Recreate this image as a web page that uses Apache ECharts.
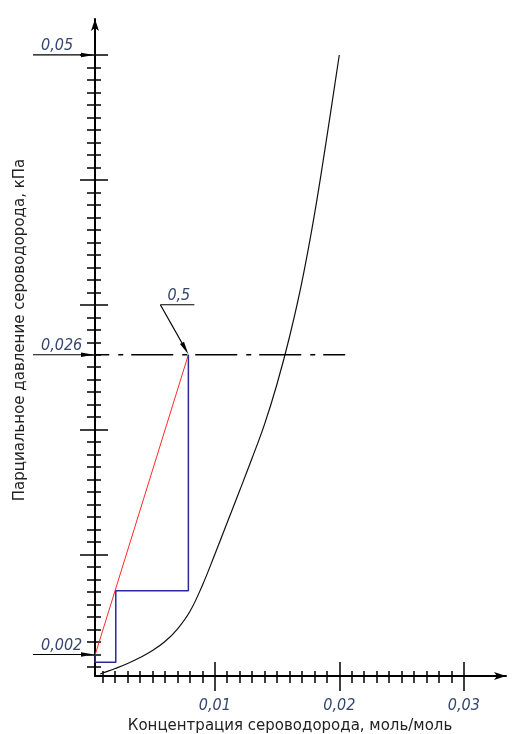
<!DOCTYPE html>
<html><head><meta charset="utf-8">
<script src="https://cdn.jsdelivr.net/npm/echarts@6/dist/echarts.min.js"></script>
<style>html,body{margin:0;padding:0;background:#fff}#c{width:512px;height:734px}</style>
</head><body><div id="c"></div>
<script>
// ---- data ----
const curveX = [0.0008,0.001,0.002,0.003,0.004,0.005,0.006,0.007,0.008,0.009,0.010,0.011,0.012,0.013,0.014,0.015,0.016,0.017,0.018,0.019,0.020];
const curveY = [0.00044,0.00052,0.00088,0.00128,0.00176,0.00232,0.00304,0.00404,0.00544,0.00753,0.01001,0.01257,0.01513,0.01773,0.02045,0.02366,0.02742,0.03183,0.03719,0.04343,0.05];
const redX = [0.0004, 0.00788];
const redY = [0.002, 0.026];
const blueX = [0.0004, 0.0004, 0.00205, 0.00205, 0.00788, 0.00788];
const blueY = [0.002, 0.00138, 0.00138, 0.00711, 0.00711, 0.026];
const levelX = [0.0004, 0.02047];
const levelY = 0.026;
const noteText = '0,5';
const notePoint = [0.00788, 0.026];
const xMajor = [0.01, 0.02, 0.03];
const xLabels = ['0,01', '0,02', '0,03'];
const yMajor = [0.01, 0.02, 0.03, 0.04, 0.05];
const xMinor = []; for (let i = 1; i <= 29; i++) if (i % 10) xMinor.push(i / 1000);
const yMinor = []; for (let i = 1; i <= 49; i++) if (i % 10) yMinor.push(i / 1000);
const yMarkValues = [0.05, 0.026, 0.002];
const yMarkLabels = ['0,05', '0,026', '0,002'];
const xTitle = 'Концентрация сероводорода, моль/моль';
const yTitle = 'Парциальное давление сероводорода, кПа';

const xMin = 0.00038, xMax = 0.03339, yMin = 0.00028, yMax = 0.05288;
const numFont = "'Liberation Sans Narrow','DejaVu Sans Condensed',sans-serif";
const numColor = '#34466e';

function xAx(ticks, len, inside, main) {
  return {
    type: 'value', min: xMin, max: xMax, position: 'bottom', gridIndex: 0,
    axisLine: { show: !!main, onZero: false, symbol: ['none', 'arrow'], symbolSize: [6, 12],
      lineStyle: { color: '#000', width: 2 } },
    axisTick: { show: true, customValues: ticks, length: len, inside: inside,
      lineStyle: { color: '#000', width: 1.5 } },
    axisLabel: main ? {
      show: true, customValues: xMajor, margin: 22, color: numColor,
      fontFamily: numFont, fontStyle: 'italic', fontSize: 16,
      formatter: v => { const i = xMajor.findIndex(m => Math.abs(m - v) < 1e-9); return i >= 0 ? xLabels[i] : ''; }
    } : { show: false },
    splitLine: { show: false }
  };
}
function yAx(ticks, len, inside, main) {
  return {
    type: 'value', min: yMin, max: yMax, position: 'left', gridIndex: 0, offset: 0,
    axisLine: { show: !!main, onZero: false, symbol: ['none', 'arrow'], symbolSize: [6, 12],
      lineStyle: { color: '#000', width: 2 } },
    axisTick: { show: true, customValues: ticks, length: len, inside: inside,
      lineStyle: { color: '#000', width: 1.5 } },
    axisLabel: { show: false },
    splitLine: { show: false }
  };
}

const chart = echarts.init(document.getElementById('c'), null, { renderer: 'canvas' });
const option = {
  animation: false,
  backgroundColor: '#fff',
  grid: { left: 95, right: 6, top: 19, bottom: 58, containLabel: false },
  xAxis: [xAx(xMinor, 7, false, true), xAx(xMinor, 5, true), xAx(xMajor, 15, false), xAx(xMajor, 14, true)],
  yAxis: [yAx(yMinor, 8, false, true), yAx(yMinor, 6, true), yAx(yMajor, 15, false), yAx(yMajor, 13, true)],
  series: [
    { type: 'line', xAxisIndex: 0, yAxisIndex: 0, showSymbol: false, smooth: 0.4,
      data: curveX.map((x, i) => [x, curveY[i]]),
      lineStyle: { color: '#111', width: 1.2 } },
    { type: 'line', xAxisIndex: 0, yAxisIndex: 0, showSymbol: false,
      data: levelX.map(x => [x, levelY]),
      lineStyle: { color: '#000', width: 1.5, type: [42, 9, 5, 8], dashOffset: 28 } },
    { type: 'line', xAxisIndex: 0, yAxisIndex: 0, showSymbol: false,
      data: redX.map((x, i) => [x, redY[i]]),
      lineStyle: { color: '#ff2a2a', width: 1 } },
    { type: 'line', xAxisIndex: 0, yAxisIndex: 0, showSymbol: false,
      data: blueX.map((x, i) => [x, blueY[i]]),
      lineStyle: { color: '#2a2a9c', width: 1.5 } }
  ]
};
chart.setOption(option);

const P = (x, y) => chart.convertToPixel({ gridIndex: 0 }, [x, y]);
function arrow(from, tip, len, hw) {
  const dx = tip[0] - from[0], dy = tip[1] - from[1];
  const d = Math.hypot(dx, dy), ux = dx / d, uy = dy / d;
  const bx = tip[0] - ux * len, by = tip[1] - uy * len;
  return {
    base: [bx, by],
    el: { type: 'polygon', shape: { points: [tip, [bx - uy * hw, by + ux * hw], [bx + uy * hw, by - ux * hw]] },
      style: { fill: '#000' }, z: 20 }
  };
}
const g = [];
yMarkValues.forEach((v, i) => {
  const p = P(xMin, v);
  const tip = [p[0] - 1, p[1]];
  const a = arrow([33, p[1]], tip, 13, 2.3);
  g.push({ type: 'line', shape: { x1: 33, y1: p[1], x2: a.base[0], y2: p[1] }, style: { stroke: '#000', lineWidth: 1.2 }, z: 20 });
  g.push(a.el);
  g.push({ type: 'text', x: 41, y: p[1] - 1, z: 20,
    style: { text: yMarkLabels[i], font: 'italic 16px ' + numFont, fill: numColor, textAlign: 'left', textVerticalAlign: 'bottom' } });
});
// 0,5 annotation
const tp = P(notePoint[0], notePoint[1]);
const tipN = [tp[0], tp[1] - 0.5];
const st = [tp[0] - 28, tp[1] - 50];
const an = arrow(st, tipN, 13, 2.3);
g.push({ type: 'line', shape: { x1: st[0], y1: st[1], x2: an.base[0], y2: an.base[1] }, style: { stroke: '#000', lineWidth: 1.2 }, z: 20 });
g.push(an.el);
g.push({ type: 'line', shape: { x1: st[0], y1: st[1], x2: st[0] + 34, y2: st[1] }, style: { stroke: '#000', lineWidth: 1.2 }, z: 20 });
g.push({ type: 'text', x: st[0] + 7, y: st[1] - 1, z: 20,
  style: { text: noteText, font: 'italic 16px ' + numFont, fill: numColor, textAlign: 'left', textVerticalAlign: 'bottom' } });
// axis titles
g.push({ type: 'text', x: 290, y: 719, z: 20,
  style: { text: xTitle, font: '15px "DejaVu Sans", sans-serif', fill: '#222', textAlign: 'center', textVerticalAlign: 'top' } });
g.push({ type: 'text', x: 20, y: 330, rotation: Math.PI / 2, z: 20,
  style: { text: yTitle, font: '15px "DejaVu Sans", sans-serif', fill: '#222', textAlign: 'center', textVerticalAlign: 'middle' } });
chart.setOption({ graphic: { elements: g } });
</script></body></html>
